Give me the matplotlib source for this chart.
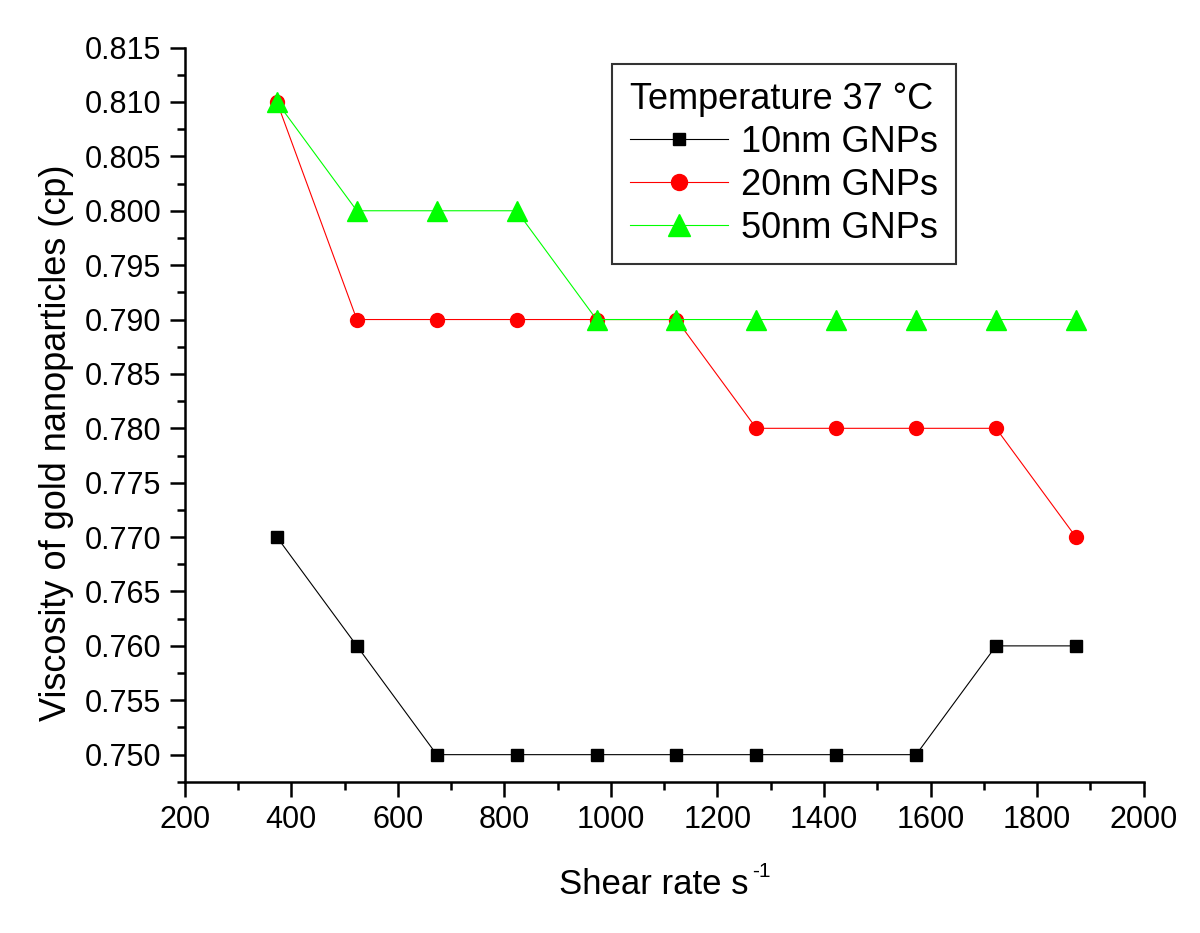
import matplotlib.pyplot as plt
import numpy as np
from matplotlib import rcParams
from matplotlib.ticker import MultipleLocator, FormatStrFormatter

rcParams['font.family'] = ['Liberation Sans', 'DejaVu Sans']
rcParams['axes.linewidth'] = 1.8

# --- data ---
shear_rate = [373, 523, 673, 823, 973, 1123, 1273, 1423, 1573, 1723, 1873]
visc_10nm = [0.770, 0.760, 0.750, 0.750, 0.750, 0.750, 0.750, 0.750, 0.750, 0.760, 0.760]
visc_20nm = [0.810, 0.790, 0.790, 0.790, 0.790, 0.790, 0.780, 0.780, 0.780, 0.780, 0.770]
visc_50nm = [0.810, 0.800, 0.800, 0.800, 0.790, 0.790, 0.790, 0.790, 0.790, 0.790, 0.790]

fig = plt.figure(figsize=(12, 9.33), dpi=100)
ax = fig.add_axes([0.154, 0.162, 0.799, 0.787])

ax.plot(shear_rate, visc_10nm, marker='s', color='black', lw=0.8, ms=8, label='10nm GNPs')
ax.plot(shear_rate, visc_20nm, marker='o', color='#FF0000', lw=0.8, ms=10, label='20nm GNPs')
ax.plot(shear_rate, visc_50nm, marker='^', color='#00FF00', lw=0.8, ms=14, label='50nm GNPs')

ax.set_xlim(200, 2000)
ax.set_ylim(0.7475, 0.815)
ax.xaxis.set_major_locator(MultipleLocator(200))
ax.xaxis.set_minor_locator(MultipleLocator(100))
ax.yaxis.set_major_locator(MultipleLocator(0.005))
ax.yaxis.set_minor_locator(MultipleLocator(0.0025))
ax.yaxis.set_major_formatter(FormatStrFormatter('%.3f'))

for side in ['top', 'right']:
    ax.spines[side].set_visible(False)
ax.tick_params(which='major', direction='out', length=11, width=1.8, labelsize=22, pad=6)
ax.tick_params(which='minor', direction='out', length=5.5, width=1.8)

# x label with a hyphen superscript, as in the original
ax.set_xlabel('Shear rate s', fontsize=25)
ax.xaxis.set_label_coords(0.4895, -0.117)
ax.annotate('-1', xy=(1.0, 1.0), xycoords=ax.xaxis.label, xytext=(2, 4),
            textcoords='offset points', fontsize=15, ha='left', va='top')

ax.set_ylabel('Viscosity of gold nanoparticles (cp)', fontsize=26)
ax.yaxis.set_label_coords(-0.116, 0.462)

leg = ax.legend(title='Temperature 37 \u00b0C', loc='upper left', bbox_to_anchor=(0.446, 0.978),
                fontsize=26, title_fontsize=26, frameon=True, fancybox=False,
                edgecolor='black', handlelength=2.7, handletextpad=0.35, markerscale=1.15,
                borderpad=0.5, labelspacing=0.22, borderaxespad=0)
leg._legend_box.align = 'left'
leg.get_frame().set_linewidth(1.5)

fig.savefig('out.png', dpi=100)
